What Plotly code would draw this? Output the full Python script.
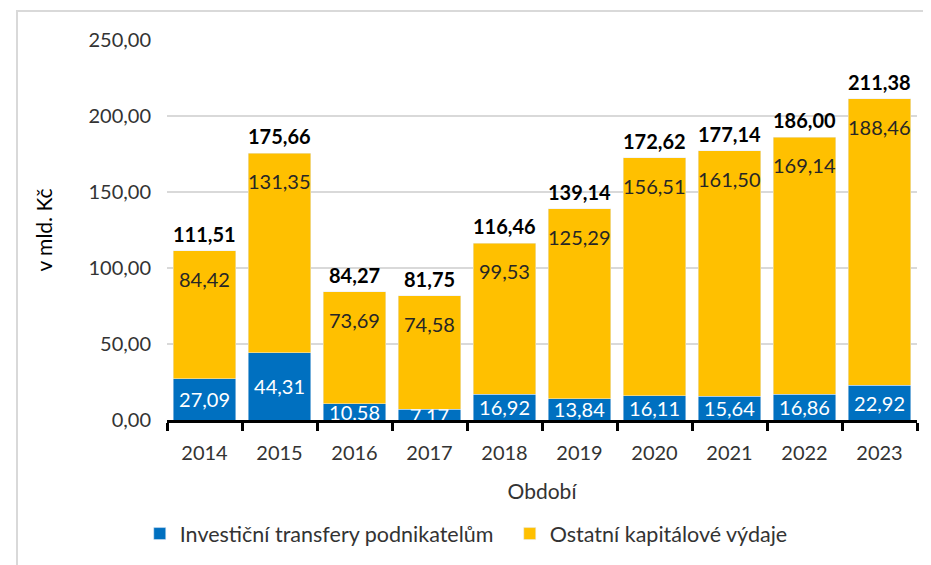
import plotly.graph_objects as go

years = ["2014", "2015", "2016", "2017", "2018", "2019", "2020", "2021", "2022", "2023"]
investicni = [27.09, 44.31, 10.58, 7.17, 16.92, 13.84, 16.11, 15.64, 16.86, 22.92]
ostatni = [84.42, 131.35, 73.69, 74.58, 99.53, 125.29, 156.51, 161.50, 169.14, 188.46]
totals = [111.51, 175.66, 84.27, 81.75, 116.46, 139.14, 172.62, 177.14, 186.00, 211.38]
tick_vals = [0, 50, 100, 150, 200, 250]

BLUE = "#0070C0"
YELLOW = "#FFC000"
FONT = "Lato"
TXT = "#333333"

def cz(v):
    return f"{v:.2f}".replace(".", ",")

fig = go.Figure()
fig.add_trace(go.Bar(
    x=years, y=investicni, name="Investiční transfery podnikatelům",
    marker_color=BLUE,
    text=[cz(v) for v in investicni], textposition="inside",
    insidetextanchor="middle", constraintext="none",
    textfont=dict(color="white", size=20, family=FONT),
))
fig.add_trace(go.Bar(
    x=years, y=ostatni, name="Ostatní kapitálové výdaje",
    marker_color=YELLOW, textposition="none",
))

for i, (t, o) in enumerate(zip(totals, ostatni)):
    fig.add_annotation(x=i, y=t, text=f"<b>{cz(t)}</b>", showarrow=False,
                       yanchor="bottom", yshift=3,
                       font=dict(size=20, color="black", family=FONT))
    fig.add_annotation(x=i, y=t, text=cz(o), showarrow=False,
                       yanchor="middle", yshift=-28,
                       font=dict(size=20, color="#262626", family=FONT))

fig.add_shape(type="rect", xref="paper", yref="paper",
              x0=-0.2, x1=1.1, y0=-0.6, y1=1.0763,
              line=dict(color="#D9D9D9", width=2), layer="below")

fig.update_layout(
    barmode="stack", bargap=0.17,
    width=931, height=565,
    margin=dict(l=159, r=22, t=32, b=153, autoexpand=False),
    paper_bgcolor="white", plot_bgcolor="white",
    font=dict(family=FONT, size=20, color=TXT),
    showlegend=True,
    legend=dict(orientation="h", x=0.457, xanchor="center", y=-0.245, yanchor="top",
                font=dict(size=21.5, color=TXT), traceorder="normal",
                entrywidth=325),
    xaxis=dict(
        type="category",
        title=dict(text="Období", font=dict(size=21), standoff=22),
        showline=True, linecolor="black", linewidth=3,
        ticks="outside", tickson="boundaries", ticklen=8, tickwidth=3, tickcolor="black",
        ticklabelstandoff=13,
        tickfont=dict(size=20),
    ),
    yaxis=dict(
        title=dict(text="v mld. Kč", font=dict(size=21, color="black"), standoff=30),
        range=[0, 250], tickvals=tick_vals, tickformat=".2f",
        showgrid=True, gridcolor="#D9D9D9", gridwidth=2,
        zeroline=False, showline=False, ticks="", ticklabelstandoff=15,
        tickfont=dict(size=20),
    ),
    separators=",.",
)

fig.write_html("out.html")
